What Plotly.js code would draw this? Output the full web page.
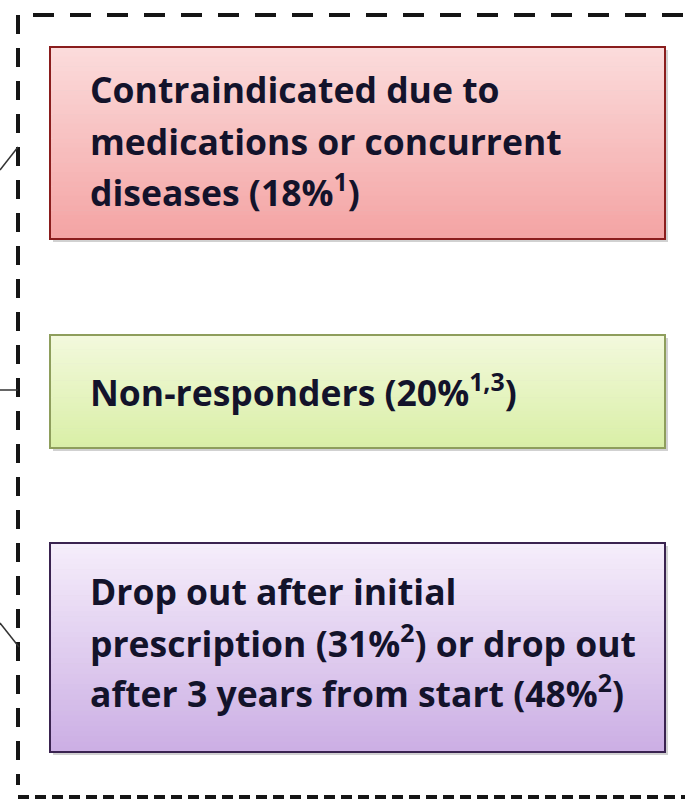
<!DOCTYPE html>
<html>
<head>
<meta charset="utf-8">
<script src="https://cdn.plot.ly/plotly-3.0.1.min.js"></script>
<style>
html,body{margin:0;padding:0;background:#fff;}
#chart{width:685px;height:799px;}
</style>
</head>
<body>
<div id="chart"></div>
<script>
// ---- data ----
const categories = ["Contraindicated", "Non-responders", "Drop out"];
const boxText = [
  ["Contraindicated due to", "medications or concurrent", "diseases (18%<sup>1</sup>)"],
  ["Non-responders (20%<sup>1,3</sup>)"],
  ["Drop out after initial", "prescription (31%<sup>2</sup>) or drop out", "after 3 years from start (48%<sup>2</sup>)"]
];
const topColors = ["#fbdcdc", "#f3f9dd", "#f6eefb"];
const bottomColors = ["#f4a3a3", "#d9efa6", "#cbaee4"];
const borderColors = ["#8a1d1d", "#8e9e5c", "#3a2350"];

// ---- layout geometry (pixels) ----
const W = 685, H = 799;
const boxX0 = 50, boxX1 = 665;
const boxY = [[47, 239], [335, 448], [543, 752]];
const lineCenters = [[90, 142, 191], [391], [592, 642, 692]];
const connectors = [[0, 170, 18, 147], [0, 390, 18, 390], [0, 623, 19, 647]];

function hex(c){return [parseInt(c.slice(1,3),16),parseInt(c.slice(3,5),16),parseInt(c.slice(5,7),16)];}
function mix(a,b,t){const A=hex(a),B=hex(b);return 'rgb('+A.map((v,i)=>Math.round(v+(B[i]-v)*t)).join(',')+')';}

const shapes = [];
const annotations = [];
// dashed frame
shapes.push({type:'line', xref:'x', yref:'y', x0:33, y0:15, x1:W, y1:15, line:{color:'#151515', width:4, dash:'21px,16px'}});
shapes.push({type:'line', xref:'x', yref:'y', x0:18, y0:15, x1:18, y1:785, line:{color:'#151515', width:4, dash:'19px,14px'}});
shapes.push({type:'line', xref:'x', yref:'y', x0:18, y0:797, x1:W, y1:797, line:{color:'#151515', width:4, dash:'11px,6px'}});

categories.forEach((cat, i) => {
  const [y0, y1] = boxY[i];
  shapes.push({type:'rect', xref:'x', yref:'y', x0:boxX0+3, x1:boxX1+3, y0:y0+3, y1:y1+3, fillcolor:'rgba(0,0,0,0.18)', line:{width:0}});
  const N = 40;
  for (let k = 0; k < N; k++) {
    const a = y0 + (y1 - y0) * k / N, b = y0 + (y1 - y0) * (k + 1) / N;
    shapes.push({type:'rect', xref:'x', yref:'y', x0:boxX0, x1:boxX1, y0:a, y1:b + 0.6,
      fillcolor: mix(topColors[i], bottomColors[i], (k + 0.5) / N), line:{width:0}});
  }
  shapes.push({type:'rect', xref:'x', yref:'y', x0:boxX0, x1:boxX1, y0:y0, y1:y1, fillcolor:'rgba(0,0,0,0)', line:{color:borderColors[i], width:2}});
  const c = connectors[i];
  shapes.push({type:'line', xref:'x', yref:'y', x0:c[0], y0:c[1], x1:c[2], y1:c[3], line:{color:'#333', width:1.5}});
  boxText[i].forEach((t, j) => {
    annotations.push({xref:'x', yref:'y', x:89, y:lineCenters[i][j] - 1, xanchor:'left', yanchor:'middle',
      text:'<b>' + t + '</b>', showarrow:false, borderpad:0,
      font:{family:'"Open Sans", Lato, sans-serif', size:35.5, color:'#13132b'}});
  });
});

const layout = {
  width: W, height: H,
  margin: {l:0, r:0, t:0, b:0},
  paper_bgcolor: '#ffffff', plot_bgcolor: '#ffffff',
  showlegend: false,
  xaxis: {range:[0, W], visible:false, fixedrange:true},
  yaxis: {range:[H, 0], visible:false, fixedrange:true},
  shapes: shapes,
  annotations: annotations
};
Plotly.newPlot('chart', [], layout, {staticPlot:true, displayModeBar:false});
</script>
</body>
</html>
